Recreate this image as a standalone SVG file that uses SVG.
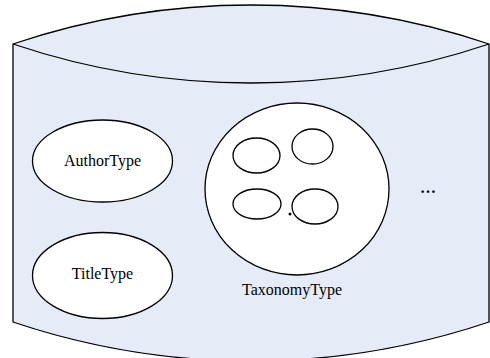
<svg xmlns="http://www.w3.org/2000/svg" width="490" height="358" viewBox="0 0 490 358">
<style>
.ln{stroke:#000;stroke-width:1.3;fill:none}
.wh{stroke:#000;stroke-width:1.3;fill:#fff}
.lb{font-family:"Liberation Serif","Times New Roman",serif;font-size:16px;fill:#000;text-anchor:middle}
</style>
<g id="container">
<path d="M13,44 A746,746 0 0 1 489,44 L489,322 A746,746 0 0 1 13,322 Z" fill="#E6ECF7" stroke="#000" stroke-width="1.3"/>
<path class="ln" d="M13,44 A746,746 0 0 0 489,44"/>
</g>
<g id="AuthorType">
<ellipse class="wh" cx="102.5" cy="161" rx="70" ry="41"/>
<text class="lb" x="102.5" y="166">AuthorType</text>
</g>
<g id="TitleType">
<ellipse class="wh" cx="102.5" cy="275.5" rx="70" ry="43"/>
<text class="lb" x="102.5" y="279">TitleType</text>
</g>
<g id="TaxonomyType">
<ellipse class="wh" cx="297" cy="189" rx="92" ry="86"/>
<ellipse class="ln" cx="256.5" cy="155.5" rx="23.5" ry="17.5"/>
<ellipse class="ln" cx="312.5" cy="146.5" rx="20.5" ry="17.5"/>
<ellipse class="ln" cx="257" cy="204" rx="24" ry="15"/>
<ellipse class="ln" cx="315" cy="206.5" rx="23" ry="17.5"/>
<circle cx="290" cy="214" r="1.5" fill="#000"/>
<text class="lb" x="292" y="295">TaxonomyType</text>
</g>
<g id="more">
<text class="lb" x="428" y="193" font-size="19" font-weight="bold">…</text>
</g>
<g id="connectors"/>
</svg>
